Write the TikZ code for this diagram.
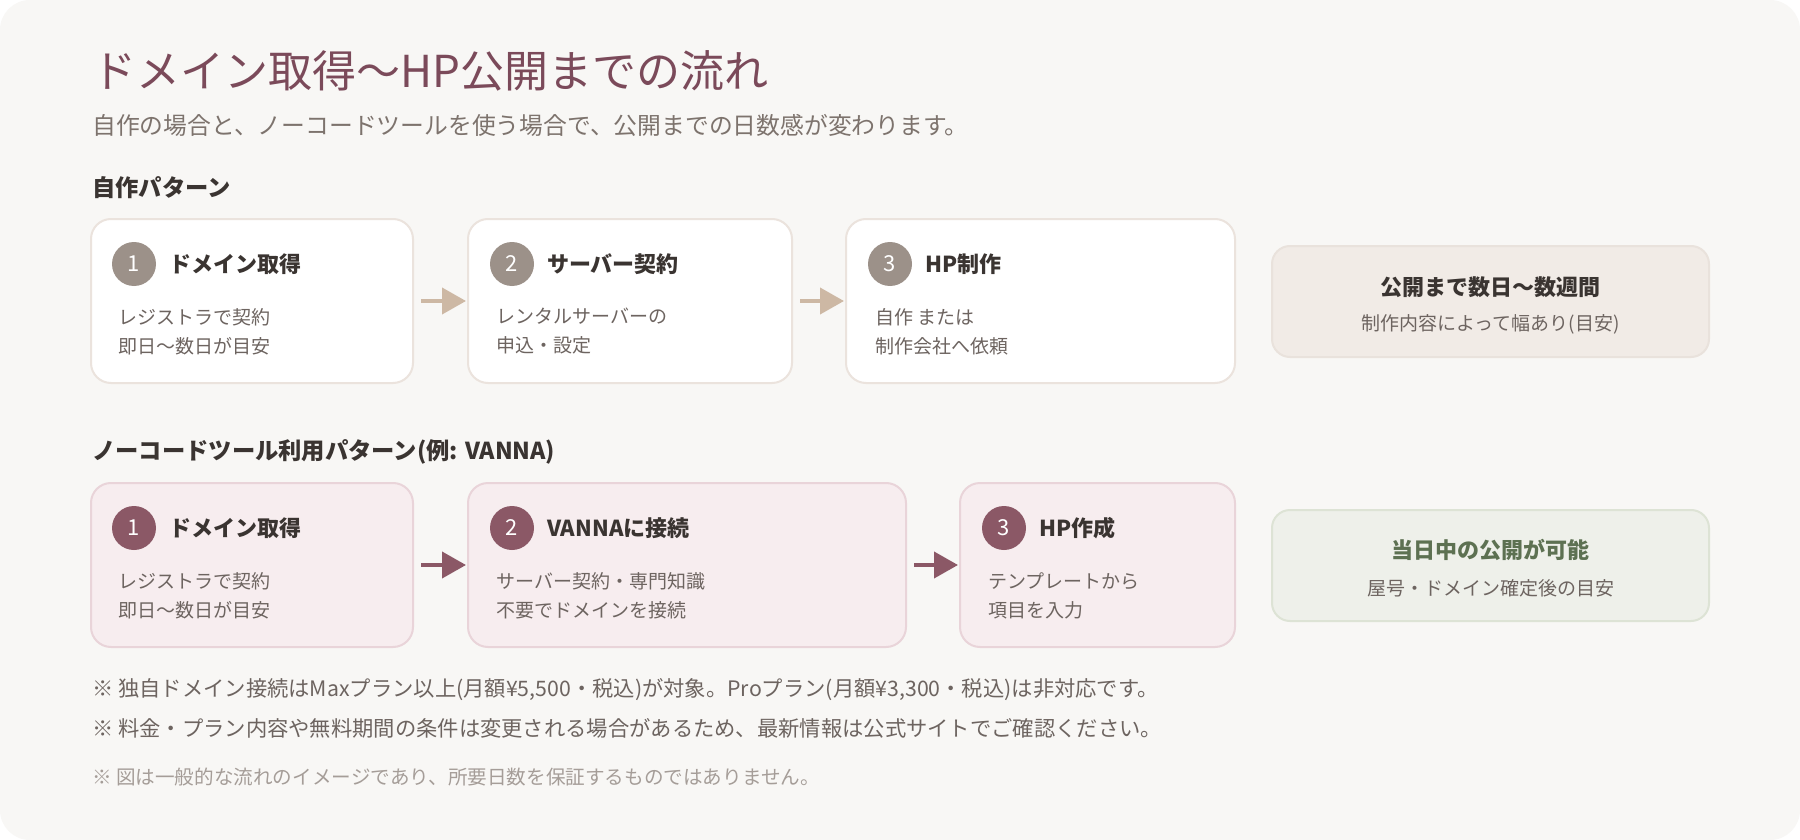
\documentclass[tikz,border=0pt]{standalone}
\usepackage{fontspec}
\setmainfont{Noto Sans CJK JP}
\usetikzlibrary{arrows.meta}
\definecolor{bgc}{HTML}{F8F7F5}
\definecolor{titlec}{HTML}{7B4A5A}
\definecolor{subc}{HTML}{7D736D}
\definecolor{darkc}{HTML}{3A3431}
\definecolor{bodyc}{HTML}{6D6460}
\definecolor{faintc}{HTML}{A59D98}
\definecolor{aBorder}{HTML}{EBE3DD}
\definecolor{aBadge}{HTML}{9C9189}
\definecolor{aArrow}{HTML}{CDB8A4}
\definecolor{aSumFill}{HTML}{F1EBE6}
\definecolor{aSumBorder}{HTML}{E9E2DC}
\definecolor{bFill}{HTML}{F7EDEF}
\definecolor{bBorder}{HTML}{E9D4D9}
\definecolor{bBadge}{HTML}{8B5866}
\definecolor{gFill}{HTML}{EEF0EA}
\definecolor{gBorder}{HTML}{DDE3D5}
\definecolor{gText}{HTML}{5D7152}
\tikzset{
  x=1pt, y=-1pt,
  cardbox/.style={rectangle, rounded corners=20pt, line width=2pt, inner sep=0pt, minimum height=164pt},
  boxA/.style={cardbox, fill=white, draw=aBorder},
  boxB/.style={cardbox, fill=bFill, draw=bBorder},
  sumA/.style={rectangle, rounded corners=18pt, line width=2pt, inner sep=0pt, minimum width=437pt, minimum height=111pt, fill=aSumFill, draw=aSumBorder},
  sumB/.style={sumA, fill=gFill, draw=gBorder},
  badgeA/.style={circle, fill=aBadge, minimum size=44pt, inner sep=0pt, text=white, font=\fontsize{22}{22}\selectfont},
  badgeB/.style={badgeA, fill=bBadge},
  steptitle/.style={anchor=west, inner sep=0pt, text=darkc, font=\fontsize{22}{26}\selectfont\bfseries},
  stepbody/.style={anchor=west, inner sep=0pt, align=left, text=bodyc, font=\fontsize{19}{29}\selectfont},
  sumtitle/.style={inner sep=0pt, text=darkc, font=\fontsize{22}{26}\selectfont\bfseries},
  sumsub/.style={inner sep=0pt, text=bodyc, font=\fontsize{19}{24}\selectfont},
  section/.style={anchor=west, inner sep=0pt, text=darkc, font=\fontsize{23.3}{27}\selectfont\bfseries},
  note/.style={anchor=west, inner sep=0pt, text=bodyc, font=\fontsize{21.3}{25}\selectfont},
  arrowA/.style={line width=4pt, draw=aArrow, -{Triangle[length=24pt,width=26pt]}, shorten <=7pt, shorten >=1pt},
  arrowB/.style={arrowA, draw=bBadge},
}
\begin{document}
\begin{tikzpicture}
\useasboundingbox (0,0) rectangle (1800,840);
\fill[white] (0,0) rectangle (1800,840);
\fill[bgc, rounded corners=30pt] (0,0) rectangle (1800,840);

% headings
\node[anchor=west, inner sep=0pt, text=titlec, font=\fontsize{44}{50}\selectfont] (title) at (92,71) {ドメイン取得〜HP公開までの流れ};
\node[anchor=west, inner sep=0pt, text=subc, font=\fontsize{23.8}{27}\selectfont] (subtitle) at (92,125) {自作の場合と、ノーコードツールを使う場合で、公開までの日数感が変わります。};
\node[section] (sec1) at (92,188) {自作パターン};
\node[section] (sec2) at (92,452) {ノーコードツール利用パターン(例: VANNA)};

% row 1
\node[boxA, minimum width=322pt] (r1b1) at (252,301) {};
\node[boxA, minimum width=324pt] (r1b2) at (630,301) {};
\node[boxA, minimum width=389pt] (r1b3) at (1040.5,301) {};
\node[badgeA] (r1n1) at (134,264) {1};
\node[badgeA] (r1n2) at (512,264) {2};
\node[badgeA] (r1n3) at (890,264) {3};
\node[steptitle] (r1t1) at (169,264) {ドメイン取得};
\node[steptitle] (r1t2) at (547,264) {サーバー契約};
\node[steptitle] (r1t3) at (925,264) {HP制作};
\node[stepbody] (r1d1) at (118,331.5) {レジストラで契約\\即日〜数日が目安};
\node[stepbody] (r1d2) at (496,331.5) {レンタルサーバーの\\申込・設定};
\node[stepbody] (r1d3) at (875,331.5) {自作 または\\制作会社へ依頼};
\draw[arrowA] (r1b1.east) -- (r1b2.west);
\draw[arrowA] (r1b2.east) -- (r1b3.west);
\node[sumA] (r1s) at (1490.5,301.5) {};
\node[sumtitle] (r1st) at (1490.5,287) {公開まで数日〜数週間};
\node[sumsub] (r1ss) at (1490.5,324) {制作内容によって幅あり(目安)};

% row 2
\node[boxB, minimum width=322pt] (r2b1) at (252,565) {};
\node[boxB, minimum width=438pt] (r2b2) at (687,565) {};
\node[boxB, minimum width=275pt] (r2b3) at (1097.5,565) {};
\node[badgeB] (r2n1) at (134,528) {1};
\node[badgeB] (r2n2) at (512,528) {2};
\node[badgeB] (r2n3) at (1004,528) {3};
\node[steptitle] (r2t1) at (169,528) {ドメイン取得};
\node[steptitle] (r2t2) at (547,528) {VANNAに接続};
\node[steptitle] (r2t3) at (1039,528) {HP作成};
\node[stepbody] (r2d1) at (118,595.5) {レジストラで契約\\即日〜数日が目安};
\node[stepbody] (r2d2) at (496,595.5) {サーバー契約・専門知識\\不要でドメインを接続};
\node[stepbody] (r2d3) at (988,595.5) {テンプレートから\\項目を入力};
\draw[arrowB] (r2b1.east) -- (r2b2.west);
\draw[arrowB] (r2b2.east) -- (r2b3.west);
\node[sumB] (r2s) at (1490.5,565.5) {};
\node[sumtitle, text=gText] (r2st) at (1490.5,550) {当日中の公開が可能};
\node[sumsub] (r2ss) at (1490.5,588) {屋号・ドメイン確定後の目安};

% notes
\node[note] (n1) at (92,690) {※ 独自ドメイン接続はMaxプラン以上(月額¥5,500・税込)が対象。Proプラン(月額¥3,300・税込)は非対応です。};
\node[note] (n2) at (92,728) {※ 料金・プラン内容や無料期間の条件は変更される場合があるため、最新情報は公式サイトでご確認ください。};
\node[note, text=faintc, font=\fontsize{19.6}{23}\selectfont] (n3) at (92,777) {※ 図は一般的な流れのイメージであり、所要日数を保証するものではありません。};
\end{tikzpicture}
\end{document}
